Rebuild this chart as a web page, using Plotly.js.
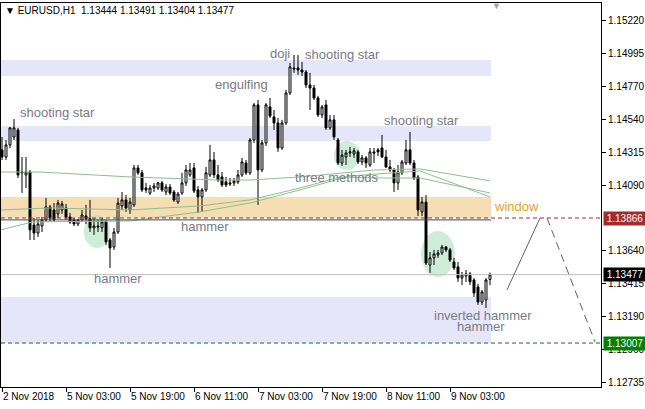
<!DOCTYPE html>
<html>
<head>
<meta charset="utf-8">
<script src="https://cdn.plot.ly/plotly-3.0.1.min.js"></script>
<style>html,body{margin:0;padding:0;background:#fff;}#chart{width:645px;height:409px;}</style>
</head>
<body>
<div id="chart"></div>
<script>
// ---- data (EURUSD H1, bars indexed from 2 Nov 2018) ----
const openP = [1.14334,1.14285,1.14368,1.14423,1.14471,1.14176,1.14162,1.14182,1.13818,1.13763,
1.13811,1.13853,1.13942,1.13921,1.13894,1.13921,1.13935,1.13873,1.13853,1.13825,
1.13853,1.13880,1.13860,1.13798,1.13811,1.13798,1.13839,1.13715,1.13667,1.13770,
1.13949,1.13990,1.13921,1.13956,1.14210,1.14176,1.14072,1.14038,1.14072,1.14072,
1.14107,1.14045,1.14079,1.14045,1.13976,1.14038,1.14107,1.14162,1.14210,1.14059,
1.14011,1.14059,1.14162,1.14265,1.14162,1.14148,1.14114,1.14107,1.14107,1.14114,
1.14162,1.14244,1.14176,1.14402,1.14643,1.14196,1.14382,1.14629,1.14560,1.14519,
1.14347,1.14519,1.14725,1.14897,1.14897,1.14883,1.14869,1.14780,1.14759,1.14691,
1.14574,1.14643,1.14485,1.14540,1.14402,1.14244,1.14285,1.14313,1.14306,1.14320,
1.14251,1.14279,1.14230,1.14320,1.14334,1.14347,1.14285,1.14217,1.14196,1.14107,
1.14176,1.14244,1.14334,1.14244,1.14148,1.13908,1.13976,1.13543,1.13592,1.13612,
1.13626,1.13667,1.13647,1.13564,1.13530,1.13454,1.13468,1.13482,1.13440,1.13392,
1.13289,1.13303,1.13444];
const highP = [1.14423,1.14402,1.14491,1.14546,1.14485,1.14285,1.14285,1.14196,1.13866,1.13853,
1.13873,1.14004,1.13956,1.13969,1.13990,1.13983,1.13963,1.13901,1.13866,1.13860,
1.13921,1.13956,1.13990,1.13866,1.13853,1.13866,1.13853,1.13729,1.13798,1.14004,
1.14045,1.14024,1.14004,1.14230,1.14230,1.14196,1.14107,1.14093,1.14107,1.14114,
1.14121,1.14100,1.14100,1.14059,1.14045,1.14176,1.14230,1.14244,1.14244,1.14086,
1.14072,1.14217,1.14368,1.14320,1.14230,1.14182,1.14148,1.14141,1.14141,1.14196,
1.14279,1.14265,1.14416,1.14656,1.14677,1.14402,1.14656,1.14691,1.14608,1.14553,
1.14540,1.14746,1.14931,1.14986,1.14986,1.14938,1.14883,1.14863,1.14780,1.14705,
1.14643,1.14677,1.14574,1.14574,1.14416,1.14334,1.14334,1.14354,1.14347,1.14334,
1.14299,1.14292,1.14347,1.14347,1.14347,1.14437,1.14334,1.14265,1.14210,1.14230,
1.14265,1.14402,1.14457,1.14265,1.14162,1.14011,1.14024,1.13633,1.13647,1.13647,
1.13681,1.13674,1.13660,1.13592,1.13564,1.13495,1.13509,1.13495,1.13454,1.13413,
1.13372,1.13454,1.13491];
const lowP = [1.14265,1.14265,1.14347,1.14402,1.14141,1.14038,1.14072,1.13715,1.13715,1.13736,
1.13770,1.13839,1.13839,1.13839,1.13866,1.13894,1.13853,1.13825,1.13811,1.13811,
1.13839,1.13825,1.13770,1.13750,1.13770,1.13770,1.13681,1.13523,1.13647,1.13756,
1.13921,1.13908,1.13894,1.13942,1.14162,1.14045,1.14038,1.14024,1.14045,1.14059,
1.14045,1.14024,1.14024,1.13976,1.13963,1.14024,1.14086,1.14148,1.14038,1.13901,
1.13908,1.14045,1.14148,1.14141,1.14114,1.14079,1.14079,1.14086,1.14086,1.14100,
1.14148,1.14162,1.14162,1.14382,1.13956,1.14182,1.14361,1.14553,1.14471,1.14320,
1.14334,1.14505,1.14711,1.14863,1.14849,1.14842,1.14759,1.14608,1.14677,1.14560,
1.14553,1.14471,1.14471,1.14402,1.14230,1.14224,1.14230,1.14285,1.14279,1.14237,
1.14230,1.14210,1.14217,1.14244,1.14292,1.14279,1.14210,1.14182,1.14045,1.14059,
1.14162,1.14230,1.14230,1.14127,1.13880,1.13880,1.13543,1.13489,1.13543,1.13592,
1.13612,1.13633,1.13564,1.13509,1.13427,1.13406,1.13427,1.13406,1.13324,1.13269,
1.13269,1.13248,1.13404];
const closeP = [1.14285,1.14368,1.14485,1.14485,1.14162,1.14182,1.14182,1.13784,1.13763,1.13825,
1.13853,1.13942,1.13866,1.13853,1.13969,1.13963,1.13873,1.13839,1.13825,1.13853,
1.13887,1.13860,1.13798,1.13811,1.13805,1.13839,1.13702,1.13660,1.13770,1.13969,
1.13990,1.13935,1.13976,1.14210,1.14176,1.14059,1.14059,1.14072,1.14086,1.14107,
1.14059,1.14079,1.14038,1.13990,1.14031,1.14107,1.14196,1.14196,1.14052,1.14011,
1.14059,1.14176,1.14265,1.14162,1.14127,1.14093,1.14093,1.14100,1.14121,1.14162,
1.14251,1.14176,1.14402,1.14643,1.14196,1.14382,1.14643,1.14567,1.14519,1.14347,
1.14519,1.14725,1.14904,1.14890,1.14883,1.14869,1.14780,1.14759,1.14691,1.14574,
1.14629,1.14485,1.14540,1.14423,1.14244,1.14299,1.14313,1.14320,1.14327,1.14251,
1.14279,1.14244,1.14320,1.14313,1.14320,1.14285,1.14217,1.14196,1.14107,1.14182,
1.14251,1.14334,1.14244,1.14141,1.13921,1.13976,1.13557,1.13592,1.13619,1.13626,
1.13667,1.13647,1.13578,1.13523,1.13454,1.13475,1.13482,1.13427,1.13351,1.13289,
1.13358,1.13440,1.13477];

const xTickIdx = [0,16,32,48,64,80,96,112];
const xTickText = ["2 Nov 2018","5 Nov 03:00","5 Nov 19:00","6 Nov 11:00","7 Nov 03:00","7 Nov 19:00","8 Nov 11:00","9 Nov 03:00"];
const yTickVals = [1.15220,1.14995,1.14770,1.14540,1.14315,1.14090,1.13640,1.13415,1.13190,1.12960,1.12735];

// moving averages (bar index, price)
const ma1X = [-0.5, 9.5, 32, 54.5, 62, 74.5, 93.25, 104.5, 122];
const ma1Y = [1.14182,1.14182,1.14148,1.14127,1.14127,1.14148,1.14196,1.14203,1.14121];
const ma2X = [-0.5, 12, 32, 49.5, 62, 74.5, 84.5, 94.5, 104.5, 122];
const ma2Y = [1.13921,1.13935,1.13921,1.13949,1.13990,1.14072,1.14148,1.14141,1.14141,1.14038];
const ma3X = [-0.5, 7.75, 32, 49.5, 62, 74.5, 87, 104.5, 122];
const ma3Y = [1.13784,1.13839,1.13846,1.13908,1.13969,1.14059,1.14155,1.14189,1.14011];

// levels
const lastPrice = 1.13477, windowTop = 1.14011, windowLevel = 1.13866, targetLevel = 1.13007;
const zones = [[1.14952,1.14842],[1.14498,1.14395],[1.13324,1.13008]];
const projX = [126.25, 134.5, 136.25, 148.25];
const projY = [1.13372, 1.13866, 1.13866, 1.13015];

const FONT = "Liberation Sans, Arial, sans-serif";
const lblColor = "#7a7a8a";
const zoneEnd = 122.25;

const shapes = [];
zones.forEach(z => shapes.push({type:'rect', xref:'x', yref:'y', x0:-1, x1:zoneEnd, y0:z[1], y1:z[0], fillcolor:'#e6e6fa', line:{width:0}, layer:'below'}));
shapes.push({type:'rect', xref:'x', yref:'y', x0:-1, x1:zoneEnd, y0:windowLevel, y1:windowTop, fillcolor:'#f5deb3', line:{width:0}, layer:'below'});
// highlight ellipses
shapes.push({type:'circle', xref:'x', yref:'y', x0:20.5, x1:27, y0:1.13660, y1:1.13887, fillcolor:'rgba(165,222,185,0.55)', line:{width:0}, layer:'below'});
shapes.push({type:'circle', xref:'x', yref:'y', x0:83, x1:89.5, y0:1.14196, y1:1.14395, fillcolor:'rgba(165,222,185,0.55)', line:{width:0}, layer:'below'});
shapes.push({type:'circle', xref:'x', yref:'y', x0:104.75, x1:113.25, y0:1.13461, y1:1.13777, fillcolor:'rgba(165,222,185,0.55)', line:{width:0}, layer:'below'});
// lines
shapes.push({type:'line', xref:'x', yref:'y', x0:-1, x1:zoneEnd, y0:1.13853, y1:1.13853, line:{color:'#2f4f4f', width:1}});
shapes.push({type:'line', xref:'paper', yref:'y', x0:0, x1:1, y0:windowLevel, y1:windowLevel, line:{color:'#a52a2a', width:1, dash:'4px,3px'}});
shapes.push({type:'line', xref:'paper', yref:'y', x0:0, x1:1, y0:lastPrice, y1:lastPrice, line:{color:'#c0c0c0', width:1}});
shapes.push({type:'line', xref:'paper', yref:'y', x0:0, x1:1, y0:targetLevel, y1:targetLevel, line:{color:'#008000', width:1, dash:'4px,3px'}});
shapes.push({type:'line', xref:'x', yref:'y', x0:projX[0], x1:projX[1], y0:projY[0], y1:projY[1], line:{color:'#606060', width:1}});
shapes.push({type:'line', xref:'x', yref:'y', x0:projX[2], x1:projX[3], y0:projY[2], y1:projY[3], line:{color:'#606060', width:1, dash:'8px,5px'}});

function lbl(text, x, y, color) {
  return {text:text, x:x, y:y, xref:'x', yref:'y', xanchor:'left', yanchor:'middle', showarrow:false,
          font:{family:FONT, size:13, color:color||lblColor}};
}
const annotations = [
  lbl('shooting star', 4, 1.14588),
  lbl('doji', 66.5, 1.14993),
  lbl('shooting star', 75.25, 1.14986),
  lbl('engulfing', 52.75, 1.14780),
  lbl('shooting star', 95, 1.14533),
  lbl('three methods', 72.75, 1.14141),
  lbl('hammer', 44.25, 1.13805),
  lbl('hammer', 22.5, 1.13447),
  lbl('window', 122.5, 1.13942, '#e0a328'),
  lbl('inverted hammer', 107.5, 1.13193),
  lbl('hammer', 113.25, 1.13124),
  {text:'▼ EURUSD,H1  1.13444 1.13491 1.13404 1.13477', xref:'paper', yref:'paper', x:0.003, y:1, yshift:-7, xanchor:'left', yanchor:'middle', showarrow:false, font:{family:FONT, size:10, color:'#000'}},
  {text:'▼', xref:'x', yref:'paper', x:123.5, y:1, yshift:-3, xanchor:'center', yanchor:'middle', showarrow:false, font:{family:FONT, size:9, color:'#a0a0a0'}}
];
[[windowLevel,'#a52a2a'],[lastPrice,'#000000'],[targetLevel,'#008000']].forEach(p => {
  annotations.push({text:p[0].toFixed(5), xref:'paper', yref:'y', x:1, y:p[0], xshift:2, xanchor:'left', yanchor:'middle',
    showarrow:false, bgcolor:p[1], width:40, height:11, borderpad:1, align:'center',
    font:{family:FONT, size:10, color:'#ffffff'}});
});

const idx = openP.map((_, i) => i);
const traces = [
  {type:'scatter', mode:'lines', x:ma1X, y:ma1Y, line:{color:'#8fbf8f', width:1}, hoverinfo:'skip'},
  {type:'scatter', mode:'lines', x:ma2X, y:ma2Y, line:{color:'#8fbf8f', width:1}, hoverinfo:'skip'},
  {type:'scatter', mode:'lines', x:ma3X, y:ma3Y, line:{color:'#8fbf8f', width:1}, hoverinfo:'skip'},
  {type:'candlestick', x:idx, open:openP, high:highP, low:lowP, close:closeP, whiskerwidth:0, hoverinfo:'skip',
   increasing:{line:{color:'#000000', width:1}, fillcolor:'#ffffff'},
   decreasing:{line:{color:'#000000', width:1}, fillcolor:'#000000'}}
];

const layout = {
  width:645, height:409, showlegend:false,
  margin:{l:1, r:44, t:3, b:22},
  paper_bgcolor:'#ffffff', plot_bgcolor:'#ffffff',
  xaxis:{range:[-0.25,149.75], showgrid:false, zeroline:false, showline:true, mirror:true, linecolor:'#000', linewidth:1,
         ticks:'outside', ticklen:4, tickcolor:'#000', tickvals:xTickIdx, ticktext:xTickText,
         ticklabelposition:'outside right', tickfont:{family:FONT, size:10, color:'#000'}, rangeslider:{visible:false}, fixedrange:true},
  yaxis:{range:[1.12705,1.15343], side:'right', showgrid:false, zeroline:false, showline:true, mirror:true, linecolor:'#000', linewidth:1,
         ticks:'outside', ticklen:4, tickcolor:'#000', tickvals:yTickVals, ticktext:yTickVals.map(v=>v.toFixed(5)),
         tickfont:{family:FONT, size:10, color:'#000'}, fixedrange:true},
  shapes:shapes, annotations:annotations
};
Plotly.newPlot('chart', traces, layout, {staticPlot:true, displayModeBar:false});
</script>
</body>
</html>
